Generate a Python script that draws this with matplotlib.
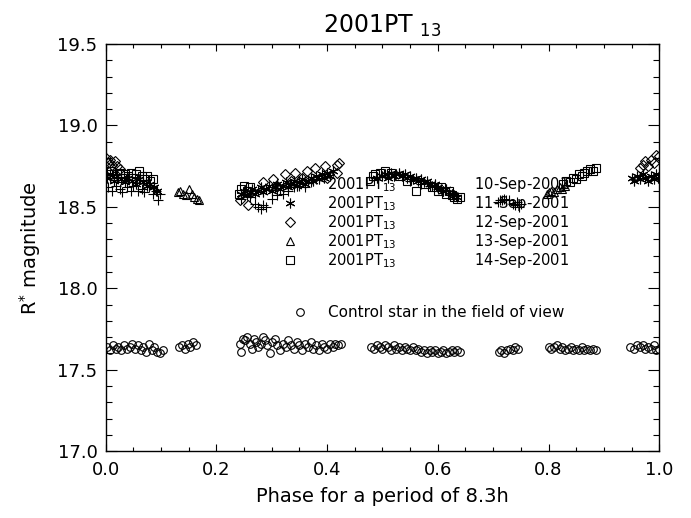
import matplotlib
matplotlib.use("Agg")
import matplotlib.pyplot as plt
from matplotlib.ticker import MultipleLocator

# 10-Sep-2001 (+)
p10 = [0.005, 0.012, 0.018, 0.025, 0.030, 0.038, 0.045, 0.050, 0.058, 0.065, 0.070, 0.078, 0.085, 0.090, 0.095, 0.098,
       0.245, 0.260, 0.270, 0.275, 0.280, 0.285, 0.290, 0.300, 0.310, 0.320, 0.330, 0.340, 0.350, 0.360, 0.370, 0.380,
       0.550, 0.570, 0.585, 0.600, 0.610,
       0.708, 0.712, 0.716, 0.720, 0.724, 0.728, 0.735, 0.740, 0.743, 0.746, 0.750]
m10 = [18.62, 18.60, 18.63, 18.61, 18.59, 18.62, 18.60, 18.63, 18.60, 18.61, 18.59, 18.62, 18.58, 18.60, 18.54, 18.58,
       18.55, 18.56, 18.52, 18.50, 18.49, 18.51, 18.50, 18.55, 18.57, 18.58, 18.60, 18.62, 18.63, 18.62, 18.65, 18.67,
       18.66, 18.64, 18.63, 18.61, 18.60,
       18.53, 18.545, 18.54, 18.55, 18.545, 18.54, 18.52, 18.51, 18.53, 18.50, 18.52]

# 11-Sep-2001 (asterisk)
p11 = [0.002, 0.008, 0.015, 0.020, 0.028, 0.035, 0.040, 0.048, 0.055, 0.060, 0.068, 0.075, 0.080, 0.088, 0.092,
       0.245, 0.250, 0.255, 0.260, 0.265, 0.270, 0.275, 0.280, 0.285, 0.290, 0.295, 0.300, 0.305, 0.310, 0.315, 0.320,
       0.325, 0.330, 0.335, 0.340, 0.345, 0.350, 0.355, 0.360, 0.365, 0.370, 0.375, 0.380, 0.385, 0.390, 0.395, 0.400,
       0.405, 0.410,
       0.490, 0.500, 0.505, 0.510, 0.515, 0.520, 0.525, 0.530, 0.535, 0.540, 0.545, 0.550, 0.555, 0.560, 0.565, 0.570,
       0.575, 0.580, 0.585, 0.590, 0.595, 0.600, 0.605, 0.610, 0.615, 0.620, 0.625, 0.630, 0.635,
       0.950, 0.955, 0.960, 0.965, 0.970, 0.975, 0.980, 0.985, 0.990, 0.995, 0.998]
m11 = [18.68, 18.70, 18.66, 18.69, 18.67, 18.65, 18.68, 18.66, 18.64, 18.67, 18.65, 18.63, 18.64, 18.62, 18.60,
       18.58, 18.60, 18.57, 18.59, 18.61, 18.58, 18.60, 18.62, 18.59, 18.61, 18.63, 18.60, 18.62, 18.64, 18.61, 18.63,
       18.65, 18.62, 18.64, 18.66, 18.63, 18.65, 18.67, 18.64, 18.66, 18.68, 18.66, 18.69, 18.67, 18.70, 18.68, 18.71,
       18.69, 18.72,
       18.68, 18.69, 18.70, 18.68, 18.71, 18.69, 18.70, 18.71, 18.69, 18.70, 18.68, 18.69, 18.67, 18.68, 18.66, 18.67,
       18.65, 18.66, 18.64, 18.63, 18.64, 18.62, 18.61, 18.60, 18.61, 18.59, 18.58, 18.57, 18.56,
       18.68, 18.66, 18.69, 18.67, 18.70, 18.68, 18.66, 18.69, 18.67, 18.70, 18.68]

# 12-Sep-2001 (diamond)
p12 = [0.000, 0.004, 0.008, 0.012, 0.016, 0.020, 0.025,
       0.242, 0.257, 0.284, 0.302, 0.324, 0.342, 0.363, 0.378, 0.396, 0.418, 0.421, 0.418, 0.400, 0.310, 0.335, 0.355,
       0.965, 0.970, 0.975, 0.980, 0.985, 0.990, 0.995, 1.000]
m12 = [18.80, 18.77, 18.79, 18.76, 18.78, 18.75, 18.73,
       18.54, 18.51, 18.65, 18.67, 18.70, 18.71, 18.72, 18.74, 18.75, 18.76, 18.77, 18.71, 18.68, 18.63, 18.66, 18.68,
       18.74, 18.76, 18.78, 18.75, 18.79, 18.77, 18.82, 18.81]

# 13-Sep-2001 (triangle)
p13 = [0.130, 0.135, 0.140, 0.145, 0.150, 0.155, 0.160, 0.165, 0.168,
       0.797, 0.800, 0.805, 0.810, 0.815, 0.820, 0.825, 0.830]
m13 = [18.59, 18.60, 18.58, 18.57, 18.61, 18.58, 18.56, 18.55, 18.54,
       18.58, 18.59, 18.60, 18.59, 18.61, 18.62, 18.61, 18.63]

# 14-Sep-2001 (square)
p14 = [0.005, 0.010, 0.015, 0.020, 0.025, 0.030, 0.035, 0.040, 0.045, 0.050, 0.055, 0.060, 0.065, 0.070, 0.075, 0.080, 0.085,
       0.240, 0.245, 0.250, 0.255, 0.260,
       0.478, 0.482, 0.487, 0.495, 0.505, 0.515, 0.530, 0.545, 0.560, 0.575, 0.590, 0.600, 0.605, 0.615, 0.620, 0.625,
       0.630, 0.635, 0.640,
       0.826, 0.832, 0.838, 0.845, 0.850, 0.855, 0.860, 0.865, 0.870, 0.875, 0.880, 0.885]
m14 = [18.70, 18.72, 18.68, 18.70, 18.71, 18.68, 18.70, 18.69, 18.71, 18.68, 18.70, 18.72, 18.69, 18.67, 18.69, 18.66, 18.67,
       18.58, 18.61, 18.63, 18.60, 18.62,
       18.66, 18.69, 18.70, 18.71, 18.72, 18.71, 18.69, 18.66, 18.60, 18.64, 18.62, 18.60, 18.62, 18.58, 18.60, 18.57,
       18.56, 18.55, 18.56,
       18.64, 18.66, 18.65, 18.68, 18.67, 18.70, 18.69, 18.71, 18.72, 18.73, 18.72, 18.74]

# control star (circles)
pc = [0.003, 0.008, 0.013, 0.018, 0.023, 0.028, 0.033, 0.038, 0.043, 0.048, 0.053, 0.058, 0.063, 0.068, 0.073, 0.078,
      0.083, 0.088, 0.093, 0.098, 0.103,
      0.132, 0.138, 0.143, 0.148, 0.153, 0.158, 0.163,
      0.242, 0.245, 0.248, 0.252, 0.256, 0.260, 0.264, 0.268, 0.272, 0.276, 0.280, 0.284, 0.288, 0.292, 0.296, 0.300,
      0.305, 0.310, 0.315, 0.320, 0.325, 0.330, 0.335, 0.340, 0.345, 0.350, 0.355, 0.360, 0.365, 0.370, 0.375, 0.380,
      0.385, 0.390, 0.395, 0.400, 0.405, 0.410, 0.415, 0.420, 0.425,
      0.480, 0.485, 0.490, 0.495, 0.500, 0.505, 0.510, 0.515, 0.520, 0.525, 0.530, 0.535, 0.540, 0.545, 0.550, 0.555,
      0.560, 0.565, 0.570, 0.575, 0.580, 0.585, 0.590, 0.595, 0.600, 0.605, 0.610, 0.615, 0.620, 0.625, 0.630, 0.635, 0.640,
      0.710, 0.715, 0.720, 0.725, 0.730, 0.735, 0.740, 0.745,
      0.800, 0.805, 0.810, 0.815, 0.820, 0.825, 0.830, 0.835, 0.840, 0.845, 0.850, 0.855, 0.860, 0.865, 0.870, 0.875,
      0.880, 0.885,
      0.948, 0.955, 0.960, 0.965, 0.970, 0.975, 0.980, 0.985, 0.990, 0.995, 1.000]
mc = [17.64, 17.62, 17.65, 17.63, 17.64, 17.62, 17.65, 17.63, 17.64, 17.66, 17.63, 17.65, 17.62, 17.64, 17.61, 17.66,
      17.62, 17.64, 17.61, 17.60, 17.62,
      17.64, 17.65, 17.63, 17.66, 17.64, 17.67, 17.65,
      17.66, 17.61, 17.69, 17.68, 17.70, 17.66, 17.63, 17.69, 17.67, 17.64, 17.66, 17.70, 17.68, 17.65, 17.60, 17.67,
      17.69, 17.65, 17.62, 17.66, 17.64, 17.68, 17.65, 17.63, 17.67, 17.65, 17.62, 17.66, 17.64, 17.67, 17.63, 17.65,
      17.62, 17.66, 17.64, 17.63, 17.66, 17.64, 17.66, 17.65, 17.66,
      17.64, 17.63, 17.65, 17.64, 17.63, 17.65, 17.64, 17.62, 17.65, 17.63, 17.64, 17.62, 17.64, 17.63, 17.62, 17.64,
      17.62, 17.63, 17.61, 17.62, 17.60, 17.62, 17.61, 17.62, 17.60, 17.61, 17.62, 17.60, 17.61, 17.62, 17.61, 17.62, 17.61,
      17.61, 17.62, 17.60, 17.62, 17.63, 17.62, 17.64, 17.63,
      17.64, 17.63, 17.64, 17.65, 17.63, 17.64, 17.62, 17.63, 17.64, 17.62, 17.63, 17.62, 17.64, 17.62, 17.63, 17.62,
      17.63, 17.62,
      17.64, 17.63, 17.65, 17.64, 17.65, 17.63, 17.64, 17.63, 17.65, 17.62, 17.63]

dates = ["10-Sep-2001", "11-Sep-2001", "12-Sep-2001", "13-Sep-2001", "14-Sep-2001"]

fig = plt.figure(figsize=(6.91, 5.18), dpi=100)
ax = fig.add_axes([0.153, 0.129, 0.801, 0.786])

kw = dict(linestyle="none", color="black", markerfacecolor="none", markeredgewidth=0.8)
h = []
h += ax.plot(p10, m10, marker="+", markersize=7, **kw)
h += ax.plot(p11, m11, marker=(6, 2, 0), markersize=7, **kw)
h += ax.plot(p12, m12, marker="D", markersize=5, **kw)
h += ax.plot(p13, m13, marker="^", markersize=6, **kw)
h += ax.plot(p14, m14, marker="s", markersize=5.5, **kw)
hc = ax.plot(pc, mc, marker="o", markersize=5.5, **kw)

ax.set_xlim(0, 1)
ax.set_ylim(17.0, 19.5)
ax.xaxis.set_major_locator(MultipleLocator(0.2))
ax.xaxis.set_minor_locator(MultipleLocator(0.05))
ax.yaxis.set_major_locator(MultipleLocator(0.5))
ax.yaxis.set_minor_locator(MultipleLocator(0.1))
ax.xaxis.set_major_formatter(matplotlib.ticker.FormatStrFormatter("%.1f"))
ax.yaxis.set_major_formatter(matplotlib.ticker.FormatStrFormatter("%.1f"))
ax.tick_params(which="both", direction="in", top=True, right=True, labelsize=13, width=0.8)
ax.tick_params(axis="x", which="major", length=5, pad=7)
ax.tick_params(axis="x", which="minor", length=3)
ax.tick_params(axis="y", which="major", length=8, pad=6)
ax.tick_params(axis="y", which="minor", length=4.3)
for s in ax.spines.values():
    s.set_linewidth(1.0)

ax.set_xlabel("Phase for a period of 8.3h", fontsize=14, labelpad=6)
ax.set_ylabel("R$^{*}$ magnitude", fontsize=14, labelpad=10)
ax.set_title("2001PT $_{13}$", fontsize=17, pad=8)

labels = ["2001PT$_{13}$" + " " * 17 + d for d in dates]
leg = ax.legend(h, labels, loc="upper left", bbox_to_anchor=(0.319, 0.679), frameon=False,
                fontsize=10.5, handlelength=1.0, handletextpad=2.1, borderpad=0, borderaxespad=0,
                labelspacing=0.0, numpoints=1)
ax.add_artist(leg)
ax.legend(hc, ["Control star in the field of view"], loc="upper left", bbox_to_anchor=(0.337, 0.358),
          frameon=False, fontsize=11, handlelength=1.0, handletextpad=1.35, borderpad=0, borderaxespad=0,
          numpoints=1)

fig.savefig("out.png", dpi=100)
